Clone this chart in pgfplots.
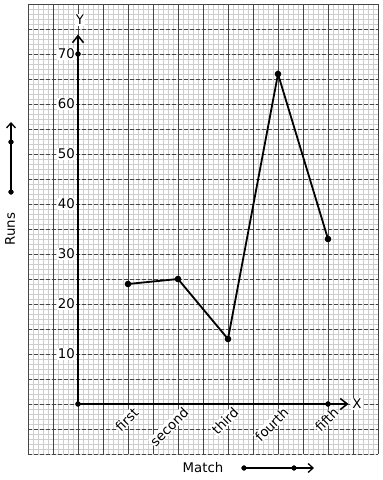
\documentclass[border=0pt]{standalone}
\usepackage{fontspec}
\setmainfont{DejaVu Sans}
\usepackage{pgfplots}
\pgfplotsset{compat=1.18}
\usetikzlibrary{arrows.meta}
\definecolor{minorg}{RGB}{205,205,205}
\definecolor{majorg}{RGB}{70,70,70}
\begin{document}
\begin{tikzpicture}[font=\fontsize{13.3}{16}\selectfont]
\useasboundingbox (-28pt,-26pt) rectangle (355pt,454pt);
\foreach \i in {0,...,70} \draw[minorg, line width=0.6pt] ({\i*5pt},0) -- ({\i*5pt},450pt);
\foreach \j in {0,...,90} \draw[minorg, line width=0.6pt] (0,{\j*5pt}) -- (350pt,{\j*5pt});
\foreach \i in {0,...,14} \draw[majorg, line width=0.8pt] ({\i*25pt},0) -- ({\i*25pt},450pt);
\foreach \j in {0,...,17} \draw[majorg, line width=0.8pt, dash pattern=on 4pt off 2pt] (0,{\j*25pt}) -- (350pt,{\j*25pt});
\draw[majorg, line width=0.8pt] (0,450pt) -- (350pt,450pt);
\begin{axis}[
  at={(0,0)}, anchor=south west, scale only axis,
  width=350pt, height=450pt,
  xmin=-1, xmax=6, ymin=-10, ymax=80,
  axis lines=middle,
  axis line style={draw=none},
  clip=false,
  xtick={1,2,3,4,5},
  xticklabels={first,second,third,fourth,fifth},
  ytick={10,20,30,40,50,60,70},
  major tick length=0pt,
  /pgf/number format/assume math mode=true,
  tick label style={font=\fontsize{13.3}{16}\selectfont},
  x tick label style={rotate=45, anchor=east, fill=white, inner sep=0.5pt, xshift=2pt, yshift=-10pt},
  y tick label style={fill=white, inner sep=1pt, xshift=-2pt},
  xlabel={Match},
  xlabel style={at={(axis cs:2.5,-12.7)}, anchor=center, font=\fontsize{13.3}{16}\selectfont},
  ylabel={Runs},
  ylabel style={at={(axis cs:-1.36,35)}, anchor=center, rotate=90, font=\fontsize{13.3}{16}\selectfont},
]
\draw[line width=2pt, -{Straight Barb[length=7pt, width=11pt, line width=1.5pt]}] (axis cs:0,0) -- (axis cs:0,73.9);
\draw[line width=2pt, -{Straight Barb[length=7pt, width=11pt, line width=1.5pt]}] (axis cs:0,0) -- (axis cs:5.41,0);
\addplot[black, line width=1.8pt, mark=*, mark size=2.3pt] coordinates {(1,24) (2,25) (3,13) (4,66) (5,33)};
\addplot[black, only marks, mark=*, mark size=2.5pt] coordinates {(0,0) (0,70) (5,0)};
\addplot[black, line width=1.8pt, -{Straight Barb[length=5pt, width=9pt, line width=1.3pt]}] coordinates {(-1.34,42.4) (-1.34,56.4)};
\addplot[black, only marks, mark=*, mark size=2.4pt] coordinates {(-1.34,42.4) (-1.34,52.4)};
\addplot[black, line width=1.8pt, -{Straight Barb[length=5pt, width=9pt, line width=1.3pt]}] coordinates {(3.32,-12.8) (4.72,-12.8)};
\addplot[black, only marks, mark=*, mark size=2.4pt] coordinates {(3.32,-12.8) (4.32,-12.8)};
\node[fill=white, inner sep=1pt] at (axis cs:0.04,76.8) {Y};
\node[fill=white, inner sep=1pt] at (axis cs:5.58,0) {X};
\end{axis}
\end{tikzpicture}
\end{document}
